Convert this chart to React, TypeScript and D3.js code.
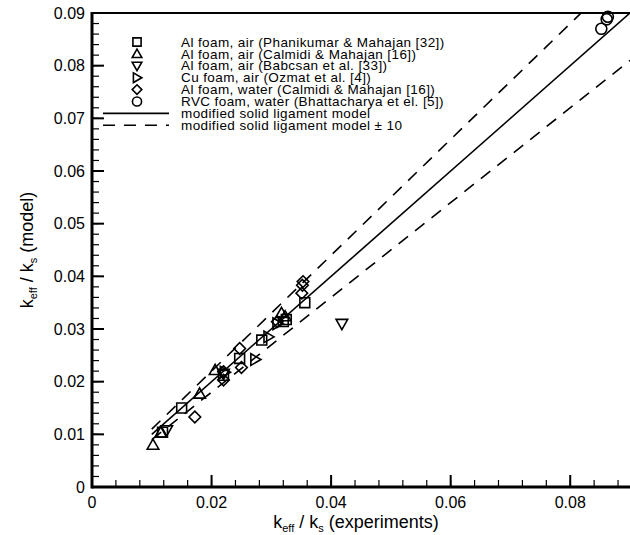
import React from "react";
import * as d3 from "d3";

// Experimental vs. model effective conductivity ratios, one array per data set
const phanikumarAir: [number, number][] = [
  [0.0118, 0.0104], [0.015, 0.015], [0.022, 0.0212], [0.0247, 0.0244],
  [0.0284, 0.0279], [0.032, 0.0314], [0.0325, 0.0318], [0.0356, 0.035],
];
const calmidiAir: [number, number][] = [
  [0.0102, 0.008], [0.0115, 0.0103], [0.018, 0.0177], [0.0206, 0.0222],
  [0.0317, 0.033], [0.0323, 0.0324],
];
const babcsanAir: [number, number][] = [
  [0.0125, 0.0108], [0.022, 0.0215], [0.0418, 0.031],
];
const ozmatAir: [number, number][] = [
  [0.0222, 0.0218], [0.0273, 0.0242], [0.0295, 0.0285], [0.031, 0.031],
];
const calmidiWater: [number, number][] = [
  [0.0172, 0.0133], [0.022, 0.0219], [0.022, 0.0203], [0.0247, 0.0263],
  [0.025, 0.0227], [0.031, 0.0314], [0.0351, 0.0368], [0.0352, 0.0383],
  [0.0353, 0.039],
];
const bhattacharyaWater: [number, number][] = [
  [0.0852, 0.087], [0.0861, 0.0888], [0.0863, 0.0893],
];

// Model line: y = factor * x over this range of the experimental ratio
const modelRange = [0.01, 0.09];
const bandFactors = [0.9, 1.1];

const xTicks = [0, 0.02, 0.04, 0.06, 0.08];
const yTicks = [0, 0.01, 0.02, 0.03, 0.04, 0.05, 0.06, 0.07, 0.08, 0.09];

const legendLabels = [
  "Al foam, air (Phanikumar & Mahajan [32])",
  "Al foam, air (Calmidi & Mahajan [16])",
  "Al foam, air (Babcsan et al. [33])",
  "Cu foam, air (Ozmat et al. [4])",
  "Al foam, water (Calmidi & Mahajan [16])",
  "RVC foam, water (Bhattacharya et el. [5])",
  "modified solid ligament model",
  "modified solid ligament model \u00b1 10",
];

type Shape = "square" | "triUp" | "triDown" | "triRight" | "diamond" | "circle";

const series: { data: [number, number][]; shape: Shape }[] = [
  { data: phanikumarAir, shape: "square" },
  { data: calmidiAir, shape: "triUp" },
  { data: babcsanAir, shape: "triDown" },
  { data: ozmatAir, shape: "triRight" },
  { data: calmidiWater, shape: "diamond" },
  { data: bhattacharyaWater, shape: "circle" },
];

function markerPath(shape: Shape, r: number): string {
  const p = d3.path();
  switch (shape) {
    case "square":
      p.rect(-r * 0.85, -r * 0.85, r * 1.7, r * 1.7);
      break;
    case "triUp":
      p.moveTo(0, -r); p.lineTo(r, r * 0.75); p.lineTo(-r, r * 0.75); p.closePath();
      break;
    case "triDown":
      p.moveTo(0, r); p.lineTo(r, -r * 0.75); p.lineTo(-r, -r * 0.75); p.closePath();
      break;
    case "triRight":
      p.moveTo(r, 0); p.lineTo(-r * 0.75, r); p.lineTo(-r * 0.75, -r); p.closePath();
      break;
    case "diamond":
      p.moveTo(0, -r); p.lineTo(r, 0); p.lineTo(0, r); p.lineTo(-r, 0); p.closePath();
      break;
    case "circle":
      p.arc(0, 0, r * 0.95, 0, Math.PI * 2);
      break;
  }
  return p.toString();
}

const FONT = "'Liberation Sans', Arial, Helvetica, sans-serif";

export default function App() {
  const W = 630, H = 535;
  const left = 92, right = 630, top = 13, bottom = 487;
  const x = d3.scaleLinear().domain([0, 0.09]).range([left, right]);
  const y = d3.scaleLinear().domain([0, 0.09]).range([bottom, top]);

  const line = d3.line<[number, number]>().x((d) => x(d[0])).y((d) => y(d[1]));
  const modelPts = (f: number): [number, number][] =>
    modelRange.map((v) => [v, f * v] as [number, number]);

  const xMinor = d3.range(0, 0.0901, 0.004);
  const yMinor = d3.range(0, 0.0901, 0.002);

  const legendX = 137, legendY0 = 42, legendDy = 11.9, legendTextX = 181;

  return (
    <svg width={W} height={H} style={{ position: "absolute", left: 0, top: 0 }} fontFamily={FONT}>
      <rect width={W} height={H} fill="#fff" />
      <defs>
        <clipPath id="plot">
          <rect x={left} y={top} width={right - left} height={bottom - top} />
        </clipPath>
      </defs>

      {/* model lines */}
      <g clipPath="url(#plot)" fill="none" stroke="#000" strokeWidth={1.6}>
        <path d={line(modelPts(1)) || ""} />
        {bandFactors.map((f) => (
          <path key={f} d={line(modelPts(f)) || ""} strokeDasharray="12 9" />
        ))}
      </g>

      {/* data markers */}
      <g fill="none" stroke="#000" strokeWidth={1.6}>
        {series.map((s, i) =>
          s.data.map((d, j) => (
            <path key={`${i}-${j}`} transform={`translate(${x(d[0])},${y(d[1])})`} d={markerPath(s.shape, 5.8)} />
          ))
        )}
      </g>

      {/* legend */}
      <g fontSize={13.5} letterSpacing={0.4}>
        {series.map((s, i) => (
          <path key={i} transform={`translate(${legendX},${legendY0 + i * legendDy})`} d={markerPath(s.shape, 4.8)}
            fill="none" stroke="#000" strokeWidth={1.6} />
        ))}
        <line x1={103} x2={169} y1={legendY0 + 6 * legendDy} y2={legendY0 + 6 * legendDy} stroke="#000" strokeWidth={1.6} />
        <line x1={103} x2={169} y1={legendY0 + 7 * legendDy} y2={legendY0 + 7 * legendDy} stroke="#000" strokeWidth={1.6} strokeDasharray="12 9" />
        {legendLabels.map((t, i) => (
          <text key={i} x={legendTextX} y={legendY0 + i * legendDy + 4.6}>{t}</text>
        ))}
      </g>

      {/* axes frame */}
      <g stroke="#000" fill="none">
        <line x1={left} x2={right} y1={top} y2={top} strokeWidth={2} />
        {xMinor.map((v, i) => (
          <line key={`xm${i}`} x1={x(v)} x2={x(v)} y1={bottom} y2={bottom - 7} strokeWidth={1.2} />
        ))}
        {xTicks.map((v) => (
          <line key={`xM${v}`} x1={x(v)} x2={x(v)} y1={bottom} y2={bottom - 12} strokeWidth={2} />
        ))}
        {yMinor.map((v, i) => (
          <line key={`ym${i}`} x1={left} x2={left + 7} y1={y(v)} y2={y(v)} strokeWidth={1.2} />
        ))}
        {yTicks.map((v) => (
          <line key={`yM${v}`} x1={left} x2={left + 12} y1={y(v)} y2={y(v)} strokeWidth={2} />
        ))}
        <line x1={left} x2={right} y1={bottom} y2={bottom} strokeWidth={3} />
        <line x1={left} x2={left} y1={top - 1} y2={bottom + 1.5} strokeWidth={3} />
      </g>

      {/* tick labels */}
      <g fontSize={16} fill="#000">
        {xTicks.map((v) => (
          <text key={v} x={x(v)} y={bottom + 21} textAnchor="middle">{d3.format("~g")(v)}</text>
        ))}
        {yTicks.map((v) => (
          <text key={v} x={left - 7} y={y(v) + 5.5} textAnchor="end">{d3.format("~g")(v)}</text>
        ))}
      </g>

      {/* axis titles */}
      <text x={356} y={528} fontSize={18} textAnchor="middle">
        k<tspan fontSize={11} dy={4}>eff</tspan>
        <tspan dy={-4}> / k</tspan>
        <tspan fontSize={11} dy={4}>s</tspan>
        <tspan dy={-4}> (experiments)</tspan>
      </text>
      <text transform={`translate(33,${(top + bottom) / 2}) rotate(-90)`} fontSize={18} textAnchor="middle">
        k<tspan fontSize={11} dy={4}>eff</tspan>
        <tspan dy={-4}> / k</tspan>
        <tspan fontSize={11} dy={4}>s</tspan>
        <tspan dy={-4}> (model)</tspan>
      </text>
    </svg>
  );
}
